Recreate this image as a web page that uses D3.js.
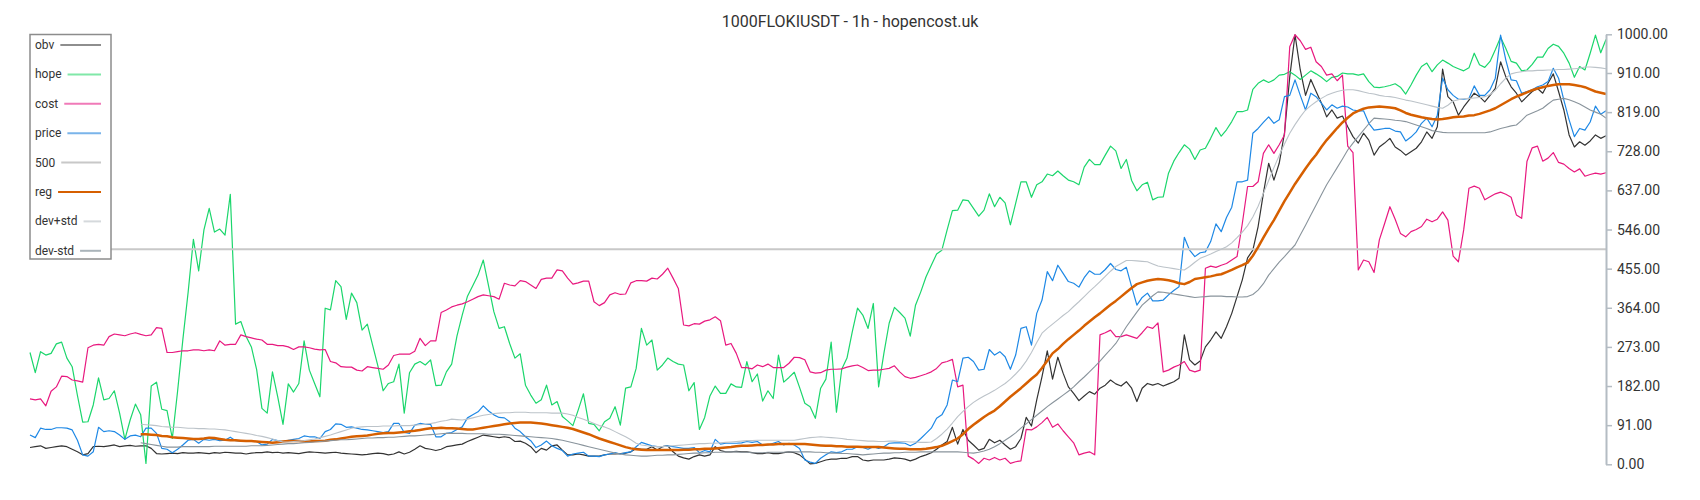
<!DOCTYPE html>
<html>
<head>
<meta charset="utf-8">
<script src="https://cdnjs.cloudflare.com/ajax/libs/d3/7.8.5/d3.min.js"></script>
<style>
  body { margin: 0; background: #fff; }
  svg { font-family: Roboto, 'Noto Sans', sans-serif; display: block; }
</style>
</head>
<body>
<svg id="chart"></svg>
<script>
const title = '1000FLOKIUSDT - 1h - hopencost.uk';

// hourly series, 300 candles, normalised to 0..1000
const obv = [
  39,41,43,37,39,41,43,41,35,29, 22,25,41,42,41,43,45,41,43,44,
  42,43,43,37,25,24,25,26,25,27, 26,26,27,26,25,27,26,28,27,26,
  26,24,26,27,27,29,27,28,26,27, 26,25,27,29,28,27,26,27,28,26,
  25,24,23,22,23,25,26,25,22,24, 29,24,28,35,43,37,35,32,35,41,
  43,45,47,53,58,63,68,66,64,62, 64,62,53,54,49,41,27,37,33,43,
  45,33,22,22,24,22,19,19,19,22, 24,24,25,26,29,37,35,35,41,33,
  41,43,29,19,15,12,18,22,19,22, 41,32,29,29,30,29,29,27,25,25,
  27,25,25,27,29,27,22,12,1,2, 6,10,12,12,14,14,18,18,10,8,
  10,10,10,12,15,14,12,8,12,18, 22,27,35,45,53,86,47,81,56,45,
  33,37,58,50,56,45,35,41,60,109, 89,150,204,264,198,249,212,180,165,148,
  159,169,163,177,184,196,187,182,192,177, 146,177,188,184,188,182,187,192,200,301,
  243,231,240,273,289,308,293,320,351,390, 429,480,498,553,630,700,661,700,770,901,
  999,917,858,895,867,840,808,824,805,810, 785,762,747,770,754,719,738,747,758,738,
  730,719,727,735,750,773,758,785,919,855, 843,812,831,847,863,855,843,858,874,936,
  901,878,863,843,855,867,874,863,886,908, 867,824,766,738,750,742,752,766,758,764
];

const hope = [
  260,213,262,254,258,280,284,247,227,160, 98,99,138,201,150,153,171,119,58,103,
  140,115,2,182,191,128,125,60,170,290, 400,523,450,545,595,540,547,533,628,326,
  332,297,273,220,130,119,215,157,93,187, 168,188,287,219,188,157,363,359,427,413,
  337,398,376,312,326,277,229,171,188,192, 233,119,213,233,239,231,243,183,184,215,
  233,298,347,391,415,440,475,415,355,316, 320,281,247,257,184,161,142,150,184,138,
  146,111,101,90,126,164,95,93,78,99, 107,134,91,177,180,223,316,277,289,219,
  231,247,239,233,231,171,190,81,109,159, 182,165,165,187,180,179,239,192,210,147,
  171,153,254,191,202,214,179,142,134,107, 177,198,284,121,221,247,308,363,347,316,
  374,180,258,328,365,353,340,298,370,401, 436,463,489,498,545,590,591,615,613,595,
  577,591,629,599,621,608,557,607,657,657, 621,650,657,675,671,682,671,661,657,650,
  691,709,697,697,719,740,729,688,709,660, 636,650,656,615,621,622,677,705,725,743,
  733,709,731,735,758,783,763,778,797,820, 820,824,872,886,894,888,894,905,907,913,
  905,895,905,915,908,900,890,900,902,910, 908,908,905,908,890,877,876,878,881,885,
  877,861,882,905,925,933,913,929,940,933, 925,920,915,922,956,929,923,937,964,993,
  967,937,933,915,917,930,947,947,967,977, 972,956,933,900,925,917,956,998,957,988
];

const cost = [
  152,150,152,136,170,180,205,204,196,194, 191,271,277,279,277,297,303,301,299,303,
  306,302,299,301,318,316,260,260,262,264, 264,266,266,264,266,264,287,277,279,279,
  301,297,294,291,289,279,279,276,276,273, 267,273,273,271,268,266,267,239,236,227,
  226,226,219,217,227,225,223,221,231,253, 256,256,256,263,293,276,287,287,353,359,
  366,370,373,378,384,390,394,392,390,384, 421,417,415,427,425,417,409,430,433,433,
  452,450,433,419,422,426,426,378,369,376, 394,399,395,396,422,427,427,426,433,431,
  442,456,433,409,324,322,327,326,333,336, 343,334,277,281,258,225,225,222,231,227,
  233,225,225,225,235,249,248,243,215,212, 213,219,221,221,222,226,229,231,225,218,
  219,219,221,223,229,215,204,200,202,206, 210,215,223,236,239,244,180,184,19,12,
  2,14,10,16,10,14,2,6,8,81, 80,87,97,109,86,94,78,64,50,22,
  26,29,22,301,306,312,297,297,301,297, 293,306,320,316,329,215,219,226,231,239,
  219,215,219,456,461,458,463,467,475,483, 560,646,646,657,723,743,723,743,766,971,
  999,985,965,970,936,925,905,908,892,905, 740,725,452,475,471,446,522,560,599,570,
  537,529,541,546,553,570,564,570,587,568, 484,471,545,642,647,642,615,622,629,633,
  628,621,580,572,704,736,740,705,712,725, 702,698,688,680,687,670,674,677,675,678
];

const price = [
  68,62,84,81,81,85,85,84,80,56, 22,19,29,86,76,78,76,68,58,66,
  68,64,84,84,72,37,35,27,35,45, 56,58,49,58,56,58,55,56,63,55,
  54,53,53,53,45,47,58,55,53,56, 58,60,66,64,64,60,76,81,94,93,
  86,87,84,81,80,78,76,74,76,95, 95,74,72,91,95,93,93,64,64,72,
  74,81,87,108,115,122,136,124,115,109, 108,99,84,76,64,55,39,45,54,43,
  37,32,19,24,26,28,19,19,18,22, 24,27,24,27,29,41,51,47,43,41,
  41,43,41,39,37,37,39,27,32,29, 58,47,49,49,49,50,53,51,53,45,
  45,49,53,45,49,45,37,10,5,2, 14,22,29,27,29,35,35,41,39,35,
  41,37,41,49,50,50,49,43,49,60, 72,84,107,115,138,196,192,247,249,239,
  219,221,267,254,262,250,221,254,316,320, 277,351,382,448,427,463,444,425,421,412,
  434,450,442,442,453,467,453,450,458,413, 370,388,398,380,380,382,394,404,413,528,
  498,483,492,494,518,559,541,574,598,657, 657,661,770,781,795,808,793,801,855,858,
  894,858,824,863,855,840,824,836,828,833, 831,824,822,822,793,777,779,781,781,775,
  773,752,761,773,793,805,785,812,898,871, 858,849,849,851,880,858,858,871,898,998,
  940,894,892,863,867,871,878,882,890,921, 898,847,801,762,781,777,796,833,814,822
];

// regression line and its bands start once the window is full
const bandStart = 21;

const reg = [
  70,70,69,68,66,65,63,62,61,60, 59,59,60,62,61,59,57,56,56,55,
  54,54,53,52,51,50,51,53,54,54, 54,53,53,54,54,55,57,58,60,62,
  64,65,66,67,69,71,72,73,73,74, 75,77,78,80,82,84,84,85,84,84,
  83,82,81,81,83,85,87,89,91,93, 95,96,97,97,97,96,95,93,91,89,
  87,85,82,78,74,70,65,60,56,52, 48,44,40,37,35,34,33,33,33,33,
  33,33,33,34,34,35,35,36,36,37, 38,39,40,42,43,43,44,45,45,46,
  46,47,47,47,47,47,47,46,45,44, 43,43,42,42,41,41,41,40,40,40,
  40,39,38,37,36,36,35,35,35,36, 38,40,43,48,54,60,70,82,92,101,
  110,118,125,135,146,157,167,177,188,199, 209,224,241,258,268,280,291,301,311,322,
  332,342,351,361,371,380,390,400,410,419, 423,427,429,431,430,428,425,421,419,424,
  431,433,435,437,440,442,447,452,458,463, 469,485,505,527,548,568,590,612,632,652,
  670,688,705,720,738,754,768,782,795,806, 816,822,827,830,831,832,831,830,828,823,
  817,813,810,807,805,803,802,803,805,807, 808,809,811,812,815,819,823,828,835,842,
  849,855,860,865,870,874,877,880,882,884, 884,884,882,880,877,872,867,864,861
];

const devUp = [
  93,92,91,90,88,87,86,86,85,84, 84,83,83,82,82,81,80,78,76,74,
  72,70,67,65,62,59,55,52,52,53, 54,55,57,59,62,65,68,72,76,80,
  84,86,87,88,88,88,89,89,89,90, 90,90,91,92,93,95,97,100,102,105,
  104,103,105,108,111,114,116,118,119,120, 120,121,121,121,120,120,120,120,119,119,
  119,117,114,109,105,100,95,90,87,82, 76,70,64,57,49,45,43,42,41,41,
  42,43,44,45,46,47,48,48,49,49, 50,51,52,53,54,55,55,56,56,56,
  56,56,56,56,56,58,60,62,63,64, 63,62,61,60,58,57,56,55,54,54,
  53,53,54,54,53,53,52,52,51,51, 52,60,70,82,96,111,123,134,144,152,
  159,165,172,180,188,198,210,223,240,260, 283,305,316,326,336,346,355,367,378,390,
  402,413,425,437,449,460,467,474,474,473, 472,471,466,461,459,457,455,453,452,460,
  470,479,484,489,495,500,506,515,527,540, 555,575,600,630,660,690,718,745,770,790,
  808,824,834,843,851,858,863,867,870,871, 871,869,866,863,861,858,856,855,853,850,
  847,845,842,839,836,833,830,828,835,845, 848,850,851,852,853,855,860,870,885,898,
  908,911,913,915,915,916,916,917,917,918, 918,919,920,921,924,924,923,922,920
];

const devDn = [
  50,48,46,44,42,40,40,40,41,41, 41,41,41,41,42,42,42,42,42,42,
  42,43,43,43,44,45,46,47,48,48, 49,50,51,52,53,54,55,56,57,57,
  58,59,60,61,61,62,62,63,63,64, 65,66,66,67,68,69,70,71,72,72,
  72,72,71,71,71,71,70,70,70,69, 68,67,66,65,64,63,62,61,60,58,
  56,53,50,47,44,41,38,35,32,29, 26,24,22,21,20,19,19,20,21,21,
  22,22,23,24,25,26,26,27,27,28, 28,29,29,29,28,28,27,27,27,28,
  28,28,28,29,29,29,29,29,28,28, 27,26,26,25,25,24,23,22,23,24,
  25,26,26,27,27,28,28,28,29,29, 29,29,29,29,29,29,28,27,26,28,
  31,35,41,48,56,64,73,84,94,104, 114,124,134,143,152,161,170,180,192,203,
  215,227,240,254,267,281,300,320,337,354, 370,381,392,401,400,398,396,394,392,390,
  388,389,390,391,391,391,390,390,389,389, 390,395,405,420,440,455,470,483,497,510,
  533,556,580,603,627,650,670,690,710,731, 747,762,777,792,805,804,803,802,800,799,
  797,793,789,785,781,776,774,772,771,771, 771,771,771,771,771,771,773,777,781,784,
  787,789,800,812,817,822,828,838,847,849, 851,848,843,838,831,824,819,814,805
];

const level500 = 500;
const yTicks = [0, 91, 182, 273, 364, 455, 546, 637, 728, 819, 910, 1000];

function createChart() {

  const width = 1700,
    height = 500,
    plot = {left: 30, right: 1606, top: 34.3, bottom: 464.3};

  const svg = d3.select('#chart')
    .attr('width', width)
    .attr('height', height);

  const x = d3.scaleLinear()
    .domain([0, hope.length - 1])
    .range([plot.left, plot.right]);

  const y = d3.scaleLinear()
    .domain([0, 1000])
    .range([plot.bottom, plot.top]);

  const series = [
    {name: 'obv', values: obv, start: 0, color: '#333333', width: 1.2, key: '#8e8e8e'},
    {name: 'hope', values: hope, start: 0, color: '#1bd66c', width: 1.2, key: '#80e8a8'},
    {name: 'cost', values: cost, start: 0, color: '#e8197f', width: 1.2, key: '#f07ab8'},
    {name: 'price', values: price, start: 0, color: '#1e88e5', width: 1.2, key: '#7ab4ea'},
    {name: '500', values: hope.map(() => level500), start: 0, color: '#c8c8c8', width: 2, key: '#c8c8c8'},
    {name: 'reg', values: reg, start: bandStart, color: '#d65f00', width: 2.5, key: '#d65f00'},
    {name: 'dev+std', values: devUp, start: bandStart, color: '#bcc3c9', width: 1.1, key: '#d5d9dc'},
    {name: 'dev-std', values: devDn, start: bandStart, color: '#89949c', width: 1.1, key: '#aab4ba'}
  ];

  const g = svg.append('g');

  series.forEach(s => {
    const line = d3.line()
      .x((d, i) => x(i + s.start))
      .y(d => y(d));
    g.append('path')
      .datum(s.values)
      .attr('fill', 'none')
      .attr('stroke', s.color)
      .attr('stroke-width', s.width)
      .attr('stroke-linejoin', 'round')
      .attr('d', line);
  });

  // value axis on the right
  const axis = svg.append('g')
    .attr('transform', `translate(${plot.right},0)`)
    .call(d3.axisRight(y)
      .tickValues(yTicks)
      .tickFormat(d => d.toFixed(2))
      .tickSize(6)
      .tickSizeOuter(0)
      .tickPadding(5));

  axis.select('.domain')
    .attr('stroke', '#b4bcc3')
    .attr('stroke-width', 2);
  axis.selectAll('.tick line')
    .attr('stroke', '#b4bcc3')
    .attr('stroke-width', 1.5);
  axis.selectAll('.tick text')
    .attr('fill', '#333')
    .style('font-size', '14px')
    .style('font-family', 'Roboto, sans-serif');

  svg.append('text')
    .attr('x', width / 2)
    .attr('y', 26.5)
    .attr('text-anchor', 'middle')
    .attr('fill', '#333')
    .style('font-size', '16px')
    .text(title);

  // legend box
  const key = svg.append('g');

  key.append('rect')
    .attr('x', 30)
    .attr('y', 34.5)
    .attr('width', 81)
    .attr('height', 224.5)
    .attr('fill', '#fff')
    .attr('stroke', '#8c8c8c')
    .attr('stroke-width', 1.5);

  const keyItem = key.selectAll('g.item')
    .data(series)
    .enter().append('g')
    .attr('class', 'item')
    .attr('transform', (d, i) => `translate(0,${45 + i * 29.4})`);

  keyItem.append('text')
    .attr('x', 35)
    .attr('y', 4)
    .attr('fill', '#333')
    .style('font-size', '12px')
    .text(d => d.name);

  keyItem.each(function(d) {
    const item = d3.select(this);
    const textEnd = 35 + item.select('text').node().getComputedTextLength();
    item.append('line')
      .attr('x1', textEnd + 6)
      .attr('x2', 101)
      .attr('y1', 0)
      .attr('y2', 0)
      .attr('stroke', d.key)
      .attr('stroke-width', 2);
  });
}

createChart();
</script>
</body>
</html>
